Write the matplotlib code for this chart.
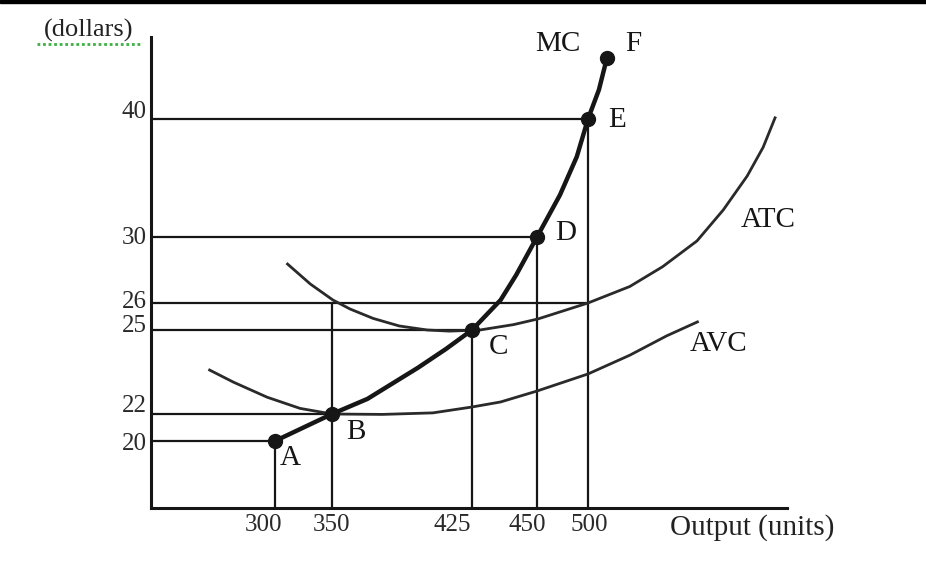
import numpy as np
import matplotlib.pyplot as plt
from matplotlib.lines import Line2D
from matplotlib.patches import Rectangle
from matplotlib.transforms import ScaledTranslation

plt.rcParams['font.family'] = ['Liberation Serif', 'DejaVu Serif']

# labelled points on the MC curve (output, dollars)
point_names = ["A", "B", "C", "D", "E", "F"]
point_q = [300, 350, 425, 450, 500, 519]
point_cost = [20, 22, 25, 30, 40, 45.2]

# curves
mc_q = [300, 350, 369, 396, 411, 425, 436, 442, 450, 472.5, 489, 500, 511, 519]
mc_cost = [20, 22, 22.54, 23.65, 24.32, 25, 26.18, 27.7, 30, 33.56, 36.8, 40, 42.5, 45.2]

atc_q = [311, 331, 350.5, 359.6, 372, 386, 401, 413, 428, 441, 451, 500, 542, 575, 609.5, 636, 660, 676, 688]
atc_cost = [28.36, 27.15, 26.18, 25.78, 25.43, 25.15, 25.0, 24.96, 25.0, 25.2, 25.41, 26, 27.0, 28.2, 29.76, 32.3, 35.17, 37.6, 40.1]

avc_q = [242, 263, 293, 322, 350, 377, 404, 425, 436, 450, 500, 542, 579, 610]
avc_cost = [23.57, 23.14, 22.6, 22.2, 22.0, 21.97, 22.04, 22.25, 22.43, 22.82, 23.43, 24.1, 24.79, 25.3]

# guide lines
h_cost = [40, 30, 26, 25, 22, 20]
h_end_q = [500, 450, 500, 425, 350, 300]
v_q = [300, 350, 425, 450, 500]
v_top_cost = [20, 26, 25, 30, 40]

x_ticks = [300, 350, 425, 450, 500]
y_ticks = [40, 30, 26, 25, 22, 20]

# the drawing is not to scale: piecewise-linear axes through the tick positions
x_anchor = [190, 300, 350, 425, 450, 500, 700]
x_pos = [0, 124, 181, 321, 386, 437, 636]
y_anchor = [15, 20, 22, 25, 26, 30, 40, 47]
y_pos = [0, 67, 94, 178, 205, 271, 389, 471]

def fx(v):
    return np.interp(v, x_anchor, x_pos)

def fx_inv(v):
    return np.interp(v, x_pos, x_anchor)

def fy(v):
    return np.interp(v, y_anchor, y_pos)

def fy_inv(v):
    return np.interp(v, y_pos, y_anchor)

ink = '#161616'

fig = plt.figure(figsize=(9.26, 5.66), dpi=100)
ax = fig.add_axes([151/926, 58/566, 636/926, 471/566])
ax.set_xscale('function', functions=(fx, fx_inv))
ax.set_yscale('function', functions=(fy, fy_inv))
ax.set_xlim(190, 700)
ax.set_ylim(15, 47)

ax.hlines(h_cost, 190, h_end_q, color=ink, lw=1.6)
ax.vlines(v_q, 15, v_top_cost, color=ink, lw=1.6)

ax.plot(atc_q, atc_cost, color='#2a2a2a', lw=2.0, solid_joinstyle='round')
ax.plot(avc_q, avc_cost, color='#2a2a2a', lw=2.0, solid_joinstyle='round')
ax.plot(mc_q, mc_cost, color=ink, lw=3.2, solid_capstyle='round', solid_joinstyle='round')
ax.plot(point_q, point_cost, 'o', color=ink, ms=10, clip_on=False)

# letter offsets from each point, in points
offsets = [(11, -12), (17, -13), (19, -12), (21, 3), (21, -1), (19, 10)]
for name, q, c, off in zip(point_names, point_q, point_cost, offsets):
    ax.annotate(name, (q, c), xytext=off, textcoords='offset points',
                ha='center', va='center', fontsize=21, color=ink)
ax.annotate("MC", (point_q[-1], point_cost[-1]), xytext=(-35, 10),
            textcoords='offset points', ha='center', va='center', fontsize=21, color=ink)
ax.text(681, 31.4, "ATC", ha='center', va='center', fontsize=21, color=ink)
ax.text(631, 24.5, "AVC", ha='center', va='center', fontsize=21, color=ink)

ax.set_xticks(x_ticks, labels=[str(v) for v in x_ticks])
ax.set_yticks(y_ticks, labels=[str(v) for v in y_ticks])
ax.tick_params(length=0, labelsize=18, labelcolor='#2a2a2a')
ax.tick_params(axis='x', pad=4)
ax.tick_params(axis='y', pad=3)

# hand-placed labels in the original sit a little off their ticks
x_shift = [-11, -1, -20, -10, 1]
y_shift = [10, 1, 3, 7, 10, 0]
for lab, dx in zip(ax.get_xticklabels(), x_shift):
    lab.set_transform(lab.get_transform() + ScaledTranslation(dx/100, 0, fig.dpi_scale_trans))
for lab, dy in zip(ax.get_yticklabels(), y_shift):
    lab.set_transform(lab.get_transform() + ScaledTranslation(0, dy/100, fig.dpi_scale_trans))

for side in ['top', 'right']:
    ax.spines[side].set_visible(False)
for side in ['left', 'bottom']:
    ax.spines[side].set_linewidth(2.2)
    ax.spines[side].set_color(ink)

fig.text(89/926, 1 - 30/566, "(dollars)", ha='center', va='center', fontsize=19, color='#222')
fig.add_artist(Line2D([37/926, 140/926], [1 - 44/566] * 2, color='#3cb043', lw=2, ls=(0, (1, 1))))
fig.text(752/926, 1 - 528/566, "Output (units)", ha='center', va='center', fontsize=21, color='#222')
fig.add_artist(Rectangle((0, 1 - 3/566), 1, 3/566, transform=fig.transFigure, color='black'))

fig.savefig('out.png', dpi=100)
